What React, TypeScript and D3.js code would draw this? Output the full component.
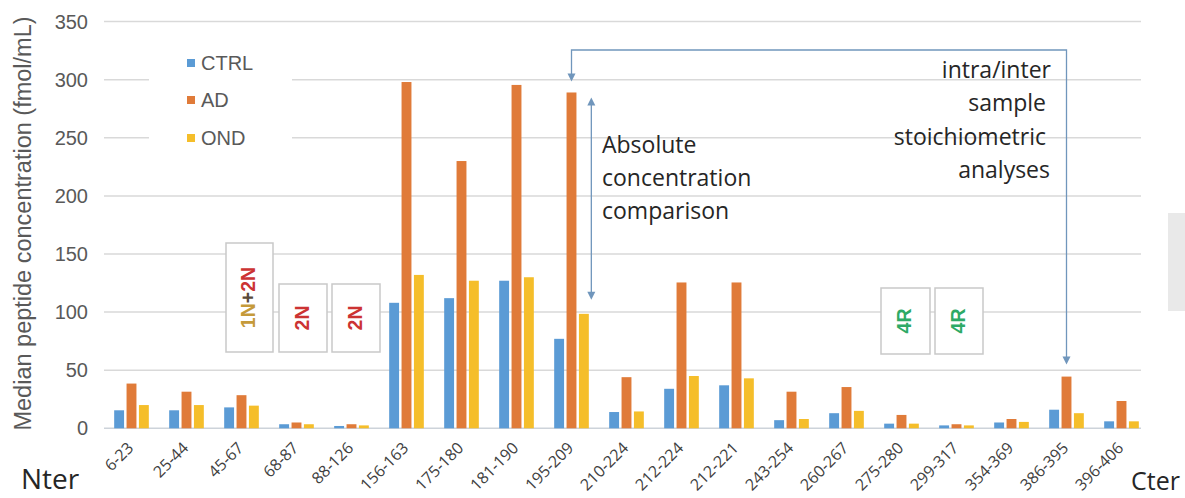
import React from "react";
import * as d3 from "d3";

const categories = ["6-23","25-44","45-67","68-87","88-126","156-163","175-180","181-190","195-209","210-224","212-224","212-221","243-254","260-267","275-280","299-317","354-369","386-395","396-406"];
const ctrl = [15.5, 15.5, 18, 3.5, 2, 108, 112, 127, 77, 14, 34, 37, 7, 13, 4, 2.5, 5, 16, 6];
const ad = [38.5, 31.5, 28.5, 5, 3.5, 298, 230, 295.5, 289, 44, 125.5, 125.5, 31.5, 35.5, 11.5, 3.5, 8, 44.5, 23.5];
const ond = [20, 20, 19.5, 3.5, 2.5, 132, 127, 130, 98.5, 14.5, 45, 43, 8, 15, 4, 2.5, 5.5, 13, 6];
const seriesNames = ["CTRL", "AD", "OND"];
const seriesColors = ["#5b9bd5", "#e07b39", "#f5be2a"];
const yTicks = [0, 50, 100, 150, 200, 250, 300, 350];

const W = 1185, H = 498;
const plotLeft = 104, plotRight = 1149, gridRight = 1141;
const y0 = 428.3, yTop = 21.6;

export default function App() {
  const x0 = d3.scaleBand<string>().domain(categories).range([plotLeft, plotRight]).paddingInner(0.37).paddingOuter(0.185);
  const x1 = d3.scaleBand<string>().domain(seriesNames).range([0, x0.bandwidth()]).paddingInner(0.2);
  const y = d3.scaleLinear().domain([0, 350]).range([y0, yTop]);
  const series = [ctrl, ad, ond];

  const arrowColor = "#7096bc";
  const sans = "'Liberation Sans', Arial, sans-serif";
  const open = "'Open Sans', sans-serif";

  const iLeft = categories.indexOf("195-209");
  const iRight = categories.indexOf("386-395");
  const leftX = (x0(categories[iLeft]) as number) + (x1("AD") as number) + x1.bandwidth() / 2;
  const rightX = (x0(categories[iRight]) as number) + (x1("AD") as number) + x1.bandwidth() / 2;
  const leftTip = y(ad[iLeft]) - 11;
  const rightTip = y(ad[iRight]) - 12;
  const bracketY = 50;
  const dblX = (x0(categories[iLeft]) as number) + (x1("OND") as number) + x1.bandwidth() + 2.5;
  const dblTop = y(ad[iLeft]) + 5;
  const dblBot = y(ond[iLeft]) - 14;

  const headDown = (x: number, tip: number) => `M${x - 4},${tip - 8} L${x + 4},${tip - 8} L${x},${tip} Z`;
  const headUp = (x: number, tip: number) => `M${x - 4},${tip + 8} L${x + 4},${tip + 8} L${x},${tip} Z`;

  const boxes = [
    { x: 226, y: 243, w: 47, h: 109, cx: 248, parts: [["1N", "#c59a3a"], ["+", "#5a4a3a"], ["2N", "#cc3333"]] },
    { x: 279, y: 284, w: 48, h: 68, cx: 302, parts: [["2N", "#cc3333"]] },
    { x: 332, y: 284, w: 48, h: 68, cx: 355, parts: [["2N", "#cc3333"]] },
    { x: 881, y: 288, w: 49, h: 66, cx: 904, parts: [["4R", "#2eaa66"]] },
    { x: 935, y: 288, w: 48, h: 66, cx: 958, parts: [["4R", "#2eaa66"]] },
  ];

  return (
    <svg width={W} height={H} style={{ position: "absolute", left: 0, top: 0, background: "#fff" }}>
      {yTicks.map((t) => (
        <line key={t} x1={plotLeft} x2={gridRight} y1={y(t)} y2={y(t)} stroke={t === 0 ? "#cdd3da" : "#d9d9d9"} strokeWidth={1.5} />
      ))}
      <rect x={149} y={42} width={143} height={118} fill="#fff" />
      {boxes.map((b, i) => (
        <g key={i}>
          <rect x={b.x} y={b.y} width={b.w} height={b.h} fill="#fff" stroke="#c9c9c9" strokeWidth={1.5} />
          <text transform={`translate(${b.cx},${b.y + b.h / 2}) rotate(-90)`} textAnchor="middle" dominantBaseline="central"
            fontFamily={sans} fontWeight="bold" fontSize={19.5}>
            {b.parts.map((p, j) => <tspan key={j} fill={p[1]}>{p[0]}</tspan>)}
          </text>
        </g>
      ))}
      <rect x={1168} y={213} width={17} height={98} fill="#e9e9e9" />
      {categories.map((c, i) => (
        <g key={c} transform={`translate(${x0(c)},0)`}>
          {series.map((s, k) => (
            <rect key={k} x={x1(seriesNames[k])} y={y(s[i])} width={x1.bandwidth()} height={y0 - y(s[i])} fill={seriesColors[k]} />
          ))}
        </g>
      ))}
      {yTicks.map((t) => (
        <text key={t} x={88} y={y(t)} textAnchor="end" dominantBaseline="central" fontFamily={sans} fontSize={20} fill="#595959">{t}</text>
      ))}
      <text transform={`translate(23,223.5) rotate(-90)`} textAnchor="middle" dominantBaseline="central" fontFamily={sans} fontSize={23.5} fill="#595959">
        Median peptide concentration (fmol/mL)
      </text>
      {categories.map((c) => (
        <text key={c} transform={`translate(${(x0(c) as number) + x0.bandwidth() / 2 + 3},449) rotate(-45)`} textAnchor="end"
          fontFamily={open} fontSize={16} fill="#404040">{c}</text>
      ))}
      <text x={21} y={489} fontFamily={open} fontSize={28} fill="#262626">Nter</text>
      <text x={1131} y={490} fontFamily={open} fontSize={25} fill="#262626">Cter</text>
      {seriesNames.map((n, k) => (
        <g key={n}>
          <rect x={187} y={[63, 100, 138][k] - 4} width={8} height={8} fill={seriesColors[k]} />
          <text x={201} y={[63, 100, 138][k]} dominantBaseline="central" fontFamily={sans} fontSize={20} fill="#595959">{n}</text>
        </g>
      ))}
      <path d={`M${leftX},${leftTip - 7} L${leftX},${bracketY} L${rightX},${bracketY} L${rightX},${rightTip - 7}`} fill="none" stroke={arrowColor} strokeWidth={1.3} />
      <path d={headDown(leftX, leftTip)} fill={arrowColor} />
      <path d={headDown(rightX, rightTip)} fill={arrowColor} />
      <line x1={dblX} x2={dblX} y1={dblTop + 7} y2={dblBot - 7} stroke={arrowColor} strokeWidth={1.3} />
      <path d={headUp(dblX, dblTop)} fill={arrowColor} />
      <path d={headDown(dblX, dblBot)} fill={arrowColor} />
      {["Absolute", "concentration", "comparison"].map((t, i) => (
        <text key={t} x={602} y={153 + i * 33} fontFamily={open} fontSize={23} fill="#262626">{t}</text>
      ))}
      {[["intra/inter", 1051, 78], ["sample", 1046, 111], ["stoichiometric", 1046, 145], ["analyses", 1050, 178]].map((t) => (
        <text key={t[0] as string} x={t[1] as number} y={t[2] as number} textAnchor="end" fontFamily={open} fontSize={23} fill="#262626">{t[0]}</text>
      ))}
    </svg>
  );
}
